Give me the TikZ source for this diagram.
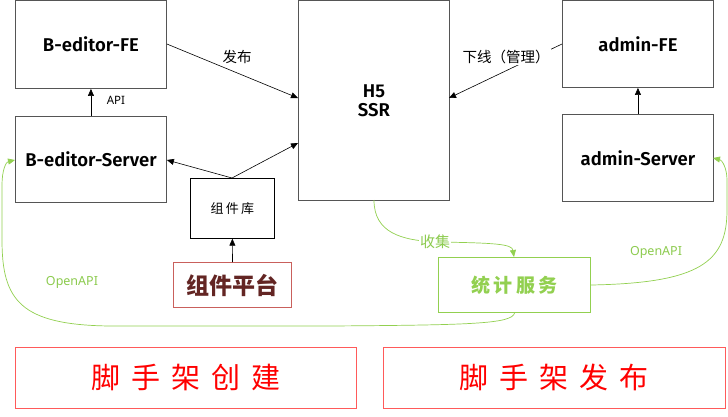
\documentclass[tikz,border=0pt]{standalone}
\usepackage{fontspec}
\setmainfont{Noto Sans}
\newfontfamily\cjk{Noto Sans CJK SC}
\newfontfamily\boxfont{Fira Sans}[BoldFont={* SemiBold}]
\usetikzlibrary{arrows.meta}
\definecolor{boxgray}{HTML}{555555}
\definecolor{statgreen}{HTML}{92D050}
\definecolor{labelgreen}{HTML}{8CCB4E}
\definecolor{scaffred}{HTML}{FF5A5A}
\definecolor{inkred}{HTML}{FF0000}
\definecolor{platborder}{HTML}{C9605C}
\definecolor{platink}{HTML}{632523}
\tikzset{
  x=1pt, y=-1pt,
  tip/.style={-{Triangle[length=7pt,width=6pt]}},
  bigbox/.style={draw=boxgray, line width=0.9pt, anchor=north west, inner sep=0pt,
    font=\boxfont\bfseries\fontsize{18.5}{21}\selectfont},
  conn/.style={black, line width=0.6pt, tip},
  gconn/.style={statgreen, line width=0.7pt},
  lbl/.style={font=\cjk\fontsize{14.5}{17}\selectfont, text=black},
  glbl/.style={font=\fontsize{12.5}{15}\selectfont, text=labelgreen},
}
\begin{document}
\begin{tikzpicture}
\useasboundingbox (0,0) rectangle (728,416);
\fill[white] (0,0) rectangle (728,416);

% main boxes
\node[bigbox, minimum width=151pt, minimum height=88pt] (bfe) at (15,0) {B-editor-FE};
\node[bigbox, minimum width=151pt, minimum height=86pt] (bsrv) at (15,116) {B-editor-Server};
\node[bigbox, minimum width=151pt, minimum height=200pt, align=center] (h5) at (298,0) {H5\\[-2pt]SSR};
\node[bigbox, minimum width=151pt, minimum height=87pt] (afe) at (562,0) {admin-FE};
\node[bigbox, minimum width=151pt, minimum height=87pt] (asrv) at (562,114) {admin-Server};

% component library and platform
\node[draw=black, line width=0.7pt, anchor=north west, minimum width=84pt, minimum height=60pt,
  inner sep=0pt, font=\cjk\fontsize{13}{15}\selectfont] (lib) at (190,178) {组\,件\,库};
\node[draw=platborder, line width=1pt, anchor=north west, minimum width=118pt, minimum height=45pt,
  inner sep=0pt, text=platink, font=\cjk\bfseries\fontsize{23}{26}\selectfont] (plat) at (173,262) {组件平台};

% statistics service
\node[draw=statgreen, line width=1pt, anchor=north west, minimum width=152pt, minimum height=55pt,
  inner sep=0pt, text=statgreen, font=\cjk\bfseries\fontsize{19}{22}\selectfont] (stat) at (438,257) {统\,计\,服\,务};

% scaffolding boxes
\node[draw=scaffred, line width=0.9pt, anchor=north west, minimum width=341pt, minimum height=61pt,
  inner sep=0pt, text=inkred, font=\cjk\fontsize{29}{33}\selectfont] (mk) at (15,347) {脚\hspace{11pt}手\hspace{11pt}架\hspace{11pt}创\hspace{11pt}建};
\node[draw=scaffred, line width=0.9pt, anchor=north west, minimum width=342pt, minimum height=61pt,
  inner sep=0pt, text=inkred, font=\cjk\fontsize{29}{33}\selectfont] (pub) at (383,347) {脚\hspace{11pt}手\hspace{11pt}架\hspace{11pt}发\hspace{11pt}布};

% black connectors
\coordinate (h5a) at (298,98);
\coordinate (h5b) at (298,143);
\coordinate (h5c) at (449,98);
\coordinate (libtop) at (232,178);
\draw[conn] (bfe.east |- 0,44) -- (h5a);
\node[lbl] (lpub) at (237,57) {发布};
\draw[conn] (bsrv.north) -- (bfe.south);
\node[font=\fontsize{11.5}{13}\selectfont] (lapi) at (116,100) {API};
\draw[conn] (libtop) -- (bsrv.east |- 0,160);
\draw[conn] (libtop) -- (h5b);
\draw[conn] (plat.north) -- (lib.south);
\draw[conn] (afe.west |- 0,44) -- (h5c);
\node[lbl, fill=white, inner sep=1pt] (loff) at (506,57) {下线（管理）};
\draw[conn] (asrv.north) -- (afe.south);

% green connectors
\coordinate (h5out) at (374,200);
\coordinate (statin) at (514,257);
\draw[gconn, -{Triangle[length=7pt,width=6pt]}] (h5out) .. controls (374,232) and (400,241) .. (440,242)
  .. controls (495,243) and (512,244) .. (statin);
\node[glbl, font=\cjk\fontsize{15}{17}\selectfont, fill=white, inner sep=1pt] (lcol) at (435,242) {收集};

\coordinate (bsrvin) at (15,160);
\draw[gconn, -{Triangle[length=7pt,width=6pt]}] (stat.south) .. controls (512,324) and (470,325) .. (330,326)
  -- (110,326) .. controls (20,325) and (2,300) .. (2,240)
  -- (2,185) .. controls (2,170) and (6,162) .. (bsrvin);
\node[glbl] (lopen1) at (72,282) {OpenAPI};

\coordinate (asrvin) at (713,158);
\draw[gconn, -{Triangle[length=7pt,width=6pt]}] (stat.east) .. controls (700,283) and (727,262) .. (727,210)
  -- (727,180) .. controls (727,168) and (722,160) .. (asrvin);
\node[glbl] (lopen2) at (656,252) {OpenAPI};
\end{tikzpicture}
\end{document}
